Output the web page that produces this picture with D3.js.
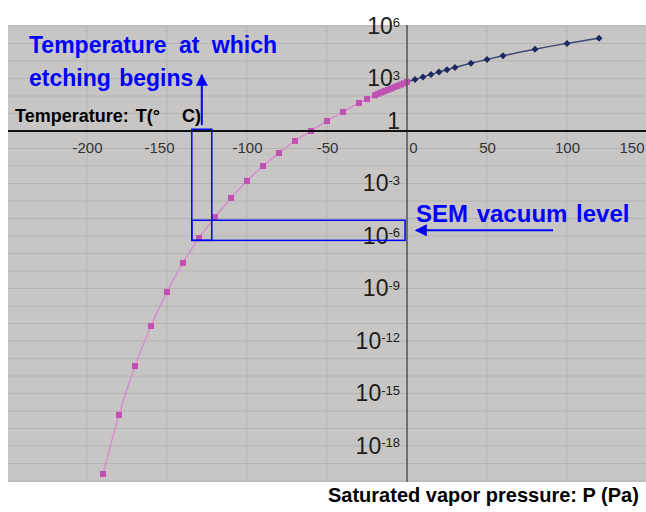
<!DOCTYPE html>
<html>
<head>
<meta charset="utf-8">
<script src="https://cdn.jsdelivr.net/npm/d3@7"></script>
<style>
  body { margin: 0; background: #fff; }
  svg { display: block; font-family: "Liberation Sans", Arial, sans-serif; }
</style>
</head>
<body>
<div id="chart"></div>
<script>
// ice (pink) and water (navy) saturated vapour pressure, Pa
var iceTemps = [-190, -180, -170, -160, -150, -140, -130, -120, -110, -100, -90, -80, -70, -60, -50, -40, -30, -25,
  -20, -18, -16, -14, -12, -10, -8, -6, -4, -2, 0];
var icePress = [2.5e-20, 6e-17, 3.7e-14, 7.2e-12, 6.3e-10, 2.9e-8, 7.7e-7, 1.2e-5, 1.5e-4, 1.4e-3, 1.0e-2, 5.5e-2, 0.27, 1.0, 3.7, 12.3, 40, 67,
  110, 135, 160, 190, 225, 265, 315, 375, 445, 525, 640];
var waterTemps = [5, 10, 15, 20, 25, 30, 40, 50, 60, 80, 100, 120];
var waterPress = [870, 1230, 1700, 2340, 3170, 4250, 7400, 12300, 19900, 47000, 101000, 199000];

var xTicks = [-200, -150, -100, -50, 0, 50, 100, 150];
var yTicks = [1e6, 1e3, 1, 1e-3, 1e-6, 1e-9, 1e-12, 1e-15, 1e-18];

// annotation bands
var etchBand = [-134.5, -122];     // temperature at which etching begins
var semBand = [10 ** -5.1, 10 ** -6.25]; // SEM vacuum level

var W = 646, H = 512;
var plot = { left: 8, right: 646, top: 25, bottom: 482 };

var x = d3.scaleLinear().domain([-250, 150]).range([7, 647]);
var y = d3.scaleLog().domain([1e-20, 1e6]).range([481, 26]);

var svg = d3.select("#chart").append("svg")
  .attr("width", W)
  .attr("height", H);

svg.append("rect")
  .attr("x", plot.left).attr("y", plot.top)
  .attr("width", plot.right - plot.left).attr("height", plot.bottom - plot.top)
  .attr("fill", "#c7c6c5");

svg.append("clipPath").attr("id", "clip")
  .append("rect")
    .attr("x", plot.left).attr("y", plot.top)
    .attr("width", plot.right - plot.left).attr("height", plot.bottom - plot.top);

var g = svg.append("g").attr("clip-path", "url(#clip)");

// grid
var decades = d3.range(-20, 7).map(function(e) { return Math.pow(10, e); });
g.selectAll(".hgrid").data(decades).enter()
  .append("line")
    .attr("x1", plot.left).attr("x2", plot.right)
    .attr("y1", function(d) { return y(d); })
    .attr("y2", function(d) { return y(d); })
    .attr("stroke", "#b4b3b2").attr("stroke-width", 1);
g.selectAll(".vgrid").data(xTicks).enter()
  .append("line")
    .attr("y1", plot.top).attr("y2", plot.bottom)
    .attr("x1", function(d) { return x(d); })
    .attr("x2", function(d) { return x(d); })
    .attr("stroke", "#b4b3b2").attr("stroke-width", 1);

// y axis (vertical line at T = 0)
var yAxis = svg.append("g")
  .attr("transform", "translate(" + x(0) + ",0)")
  .call(d3.axisLeft(y).tickValues(yTicks).tickSize(0).tickPadding(7).tickFormat(function() { return ""; }));
yAxis.select(".domain").attr("stroke", "#5a5a5a").attr("stroke-width", 1.6)
  .attr("d", "M0," + plot.top + "V" + plot.bottom);
yAxis.selectAll("text")
  .attr("fill", "#1c1c1c")
  .style("font-size", "23px")
  .each(function(d) {
    var e = Math.round(Math.log10(d));
    var t = d3.select(this);
    if (e === 0) {
      t.attr("dy", "-3px").text("1");
    } else {
      t.append("tspan").text("10");
      t.append("tspan").attr("dy", "-0.5em").style("font-size", "13px").text(e);
    }
  });

// x axis along P = 1
var xAxis = svg.append("g")
  .attr("transform", "translate(0," + y(1) + ")")
  .call(d3.axisBottom(x).tickValues(xTicks).tickSize(0).tickPadding(11).tickFormat(function(d) { return String(d); }));
xAxis.select(".domain").attr("stroke", "#111").attr("stroke-width", 2)
  .attr("d", "M" + plot.left + ",0H" + plot.right);
xAxis.selectAll("text")
  .attr("fill", "#333")
  .style("font-size", "15px")
  .filter(function(d) { return d === 150; })
    .attr("text-anchor", "end").attr("dx", "-3px");
xAxis.selectAll("text").filter(function(d) { return d === 0; }).attr("dx", "6px");
xAxis.selectAll("text").filter(function(d) { return d === -150; }).attr("dx", "-8px");

// series
var ice = iceTemps.map(function(t, i) { return [t, icePress[i]]; });
var water = [[0, icePress[icePress.length - 1]]].concat(waterTemps.map(function(t, i) { return [t, waterPress[i]]; }));

var line = d3.line()
  .x(function(d) { return x(d[0]); })
  .y(function(d) { return y(d[1]); })
  .curve(d3.curveMonotoneX);

g.append("path").datum(ice)
  .attr("d", line).attr("fill", "none")
  .attr("stroke", "#d68fcf").attr("stroke-width", 1.6);
g.append("path").datum(water)
  .attr("d", line).attr("fill", "none")
  .attr("stroke", "#3c4774").attr("stroke-width", 1.4);

g.selectAll(".sq").data(ice).enter()
  .append("rect")
    .attr("x", function(d) { return x(d[0]) - 3; })
    .attr("y", function(d) { return y(d[1]) - 3; })
    .attr("width", 6).attr("height", 6)
    .attr("fill", "#c050b2");

g.selectAll(".dia").data(water.slice(1)).enter()
  .append("path")
    .attr("d", d3.symbol().type(d3.symbolDiamond2).size(32))
    .attr("transform", function(d) { return "translate(" + x(d[0]) + "," + y(d[1]) + ")"; })
    .attr("fill", "#1b2a66");

// annotations
var blue = "#0000ff";
var defs = svg.append("defs");
defs.append("marker").attr("id", "head")
  .attr("viewBox", "0 0 10 10").attr("refX", 9).attr("refY", 5)
  .attr("markerWidth", 12).attr("markerHeight", 12).attr("markerUnits", "userSpaceOnUse")
  .attr("orient", "auto")
  .append("path").attr("d", "M0,0L10,5L0,10Z").attr("fill", blue);

svg.append("rect")
  .attr("x", x(etchBand[0])).attr("width", x(etchBand[1]) - x(etchBand[0]))
  .attr("y", y(10 ** 0.1)).attr("height", y(semBand[1]) - y(10 ** 0.1))
  .attr("fill", "none").attr("stroke", blue).attr("stroke-width", 1.5);
svg.append("rect")
  .attr("x", x(etchBand[0])).attr("width", x(-1.2) - x(etchBand[0]))
  .attr("y", y(semBand[0])).attr("height", y(semBand[1]) - y(semBand[0]))
  .attr("fill", "none").attr("stroke", blue).attr("stroke-width", 1.5);

var etchX = x((etchBand[0] + etchBand[1]) / 2);
svg.append("line")
  .attr("x1", etchX).attr("x2", etchX).attr("y1", 125).attr("y2", 75)
  .attr("stroke", blue).attr("stroke-width", 2).attr("marker-end", "url(#head)");

var semY = (y(semBand[0]) + y(semBand[1])) / 2;
svg.append("line")
  .attr("x1", 553).attr("x2", 416).attr("y1", semY).attr("y2", semY)
  .attr("stroke", blue).attr("stroke-width", 2).attr("marker-end", "url(#head)");

function label(txt, px, py, size, color, ws) {
  return svg.append("text")
    .attr("x", px).attr("y", py)
    .attr("fill", color)
    .attr("font-weight", "bold")
    .style("font-size", size + "px")
    .style("word-spacing", ws + "px")
    .text(txt);
}

label("Temperature at which", 29, 53, 23, blue, 6);
label("etching begins", 29, 86, 23, blue, 2);
label("SEM vacuum level", 416, 222, 24, blue, 2);
label("Saturated vapor pressure: P (Pa)", 328, 502, 20, "#000", 0);
var tl = label("Temperature: T(°", 15, 122, 18, "#000", 2);
tl.append("tspan").attr("x", 182).text("C)");
</script>
</body>
</html>
